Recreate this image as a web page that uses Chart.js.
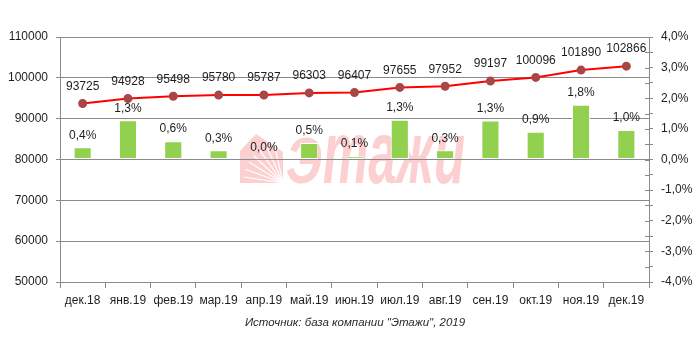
<!DOCTYPE html>
<html>
<head>
<meta charset="utf-8">
<script src="https://cdn.jsdelivr.net/npm/chart.js@4.4.0/dist/chart.umd.min.js"></script>
<style>
  body { margin: 0; background: #fff; }
  #wrap { width: 699px; height: 340px; }
</style>
</head>
<body>
<div id="wrap"><canvas id="priceChart" width="699" height="340"></canvas></div>
<script>
// Средняя цена кв. м и прирост к предыдущему месяцу
const months = ['дек.18', 'янв.19', 'фев.19', 'мар.19', 'апр.19', 'май.19', 'июн.19',
                'июл.19', 'авг.19', 'сен.19', 'окт.19', 'ноя.19', 'дек.19'];
const prices = [93725, 94928, 95498, 95780, 95787, 96303, 96407, 97655, 97952, 99197, 100096, 101890, 102866];
const growth = [0.4, 1.28, 0.6, 0.3, 0.01, 0.54, 0.11, 1.3, 0.3, 1.27, 0.91, 1.79, 0.96];
const sourceText = 'Источник: база компании "Этажи", 2019';

const FONT = "'Liberation Sans', Arial, sans-serif";
const GRID = '#8a8a8a';
const TEXT = '#1e1e1e';

function pct(v) {
    return v.toFixed(1).replace('.', ',') + '%';
}

// logo + name behind the plot
const watermark = {
    id: 'watermark',
    beforeDraw(chart) {
        const ctx = chart.ctx;
        ctx.save();
        ctx.fillStyle = '#fcd0d0';
        // house with rays
        ctx.beginPath();
        ctx.moveTo(240, 183);
        ctx.lineTo(240, 151);
        ctx.lineTo(256, 134);
        ctx.lineTo(283, 152);
        ctx.lineTo(283, 183);
        ctx.closePath();
        ctx.fill();
        ctx.strokeStyle = '#ffffff';
        ctx.lineWidth = 1.2;
        for (let i = 0; i < 7; i++) {
            const a = Math.PI + 0.15 + i * 0.2;
            ctx.beginPath();
            ctx.moveTo(283, 183);
            ctx.lineTo(283 + Math.cos(a) * 40, 183 + Math.sin(a) * 40);
            ctx.stroke();
        }
        // letters
        ctx.textBaseline = 'alphabetic';
        ctx.textAlign = 'left';
        ctx.font = 'italic bold 64px ' + FONT;
        let w = ctx.measureText('Э').width;
        ctx.save();
        ctx.translate(286, 183);
        ctx.scale(36 / w, 1);
        ctx.fillText('Э', 0, 0);
        ctx.restore();
        ctx.font = 'italic bold 89px ' + FONT;
        w = ctx.measureText('тажи').width;
        ctx.translate(323, 183);
        ctx.scale(142 / w, 1);
        ctx.fillText('тажи', 0, 0);
        ctx.restore();
    }
};

// value labels over bars and points
const valueLabels = {
    id: 'valueLabels',
    afterDatasetsDraw(chart) {
        const ctx = chart.ctx;
        ctx.save();
        ctx.font = '12px ' + FONT;
        ctx.fillStyle = TEXT;
        ctx.textAlign = 'center';
        ctx.textBaseline = 'middle';
        chart.data.datasets.forEach((ds, i) => {
            const meta = chart.getDatasetMeta(i);
            meta.data.forEach((el, j) => {
                if (ds.type === 'bar') {
                    ctx.fillText(pct(ds.data[j]), el.x, el.y - 12);
                } else {
                    ctx.fillText(String(ds.data[j]), el.x, el.y - 17);
                }
            });
        });
        ctx.restore();
    }
};

// crossing tick marks on the right axis and the source line
const extras = {
    id: 'extras',
    afterDraw(chart) {
        const ctx = chart.ctx;
        const y1 = chart.scales.y1;
        ctx.save();
        ctx.strokeStyle = GRID;
        ctx.lineWidth = 1;
        y1.ticks.forEach((t, i) => {
            const y = Math.round(y1.getPixelForTick(i)) + 0.5;
            ctx.beginPath();
            ctx.moveTo(y1.left - 4, y);
            ctx.lineTo(y1.left, y);
            ctx.stroke();
        });
        ctx.font = 'italic 11.5px ' + FONT;
        ctx.fillStyle = '#2a2a2a';
        ctx.textAlign = 'center';
        ctx.textBaseline = 'middle';
        ctx.fillText(sourceText, 355, 323);
        ctx.restore();
    }
};

const ctx = document.getElementById('priceChart').getContext('2d');
new Chart(ctx, {
    data: {
        labels: months,
        datasets: [
            {
                type: 'line',
                label: 'Цена',
                data: prices,
                yAxisID: 'y',
                borderColor: '#ff0000',
                borderWidth: 2,
                pointBackgroundColor: '#a94646',
                pointBorderColor: '#a94646',
                pointRadius: 3.5,
                tension: 0,
                order: 0
            },
            {
                type: 'bar',
                label: 'Прирост',
                data: growth,
                yAxisID: 'y1',
                backgroundColor: '#92d050',
                borderColor: '#ffffff',
                borderWidth: 1,
                borderSkipped: false,
                categoryPercentage: 1,
                barPercentage: 0.4,
                order: 1
            }
        ]
    },
    options: {
        responsive: false,
        animation: false,
        devicePixelRatio: 1,
        layout: { padding: { top: 37, left: 0, right: 0, bottom: 0 } },
        plugins: {
            legend: { display: false },
            tooltip: { enabled: false }
        },
        scales: {
            x: {
                offset: true,
                grid: { drawOnChartArea: false, offset: true, tickLength: 6, color: GRID },
                border: { color: GRID },
                ticks: { font: { family: FONT, size: 12 }, color: TEXT, padding: 5, maxRotation: 0, autoSkip: false },
                afterFit: s => { s.height = 58; }
            },
            y: {
                position: 'left',
                min: 50000,
                max: 110000,
                ticks: {
                    stepSize: 10000,
                    font: { family: FONT, size: 12 },
                    color: TEXT,
                    padding: 8,
                    callback: v => String(v)
                },
                grid: { color: GRID, tickLength: 4 },
                border: { color: GRID },
                afterFit: s => { s.width = 60; }
            },
            y1: {
                position: 'right',
                min: -4,
                max: 4,
                ticks: {
                    stepSize: 0.5,
                    autoSkip: false,
                    font: { family: FONT, size: 12 },
                    color: TEXT,
                    padding: 8,
                    callback: v => Math.abs(v - Math.round(v)) < 1e-6 ? pct(v) : ''
                },
                grid: { drawOnChartArea: false, tickLength: 4, color: GRID },
                border: { color: GRID },
                afterFit: s => { s.width = 50; }
            }
        }
    },
    plugins: [watermark, valueLabels, extras]
});
</script>
</body>
</html>
